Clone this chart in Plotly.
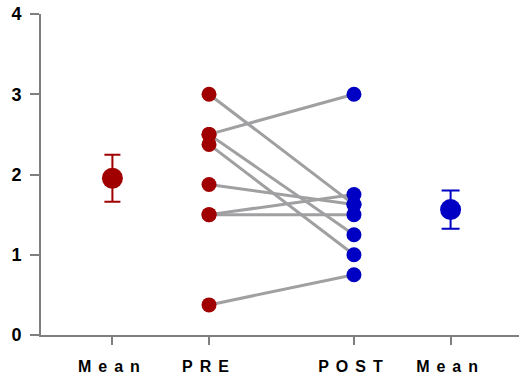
import numpy as np
import plotly.graph_objects as go

categories = ["Mean", "PRE", "POST", "Mean"]
cat_pos = [1, 2, 3.5, 4.5]

pre_values = [3.0, 2.5, 2.5, 2.375, 1.875, 1.5, 1.5, 0.375]
post_values = [1.625, 3.0, 1.25, 1.0, 1.625, 1.75, 1.5, 0.75]

y_ticks = [0, 1, 2, 3, 4]

RED = "#A00000"
BLUE = "#0000C4"
GRAY = "#A0A0A2"
AXIS = "#7F7F7F"
FONT = "Liberation Sans, Arial, sans-serif"

pre_mean = float(np.mean(pre_values))
post_mean = float(np.mean(post_values))
pre_sem = float(np.std(pre_values, ddof=1) / np.sqrt(len(pre_values)))
post_sem = float(np.std(post_values, ddof=1) / np.sqrt(len(post_values)))

fig = go.Figure()

# connecting lines
lx, ly = [], []
for a, b in zip(pre_values, post_values):
    lx += [cat_pos[1], cat_pos[2], None]
    ly += [a, b, None]
fig.add_trace(go.Scatter(x=lx, y=ly, mode="lines",
                         line=dict(color=GRAY, width=3), hoverinfo="skip"))

fig.add_trace(go.Scatter(x=[cat_pos[1]] * len(pre_values), y=pre_values, mode="markers",
                         marker=dict(color=RED, size=15)))
fig.add_trace(go.Scatter(x=[cat_pos[2]] * len(post_values), y=post_values, mode="markers",
                         marker=dict(color=BLUE, size=15)))

fig.add_trace(go.Scatter(x=[cat_pos[0]], y=[pre_mean], mode="markers",
                         marker=dict(color=RED, size=21),
                         error_y=dict(type="data", array=[pre_sem], color=RED,
                                      thickness=2, width=8)))
fig.add_trace(go.Scatter(x=[cat_pos[3]], y=[post_mean], mode="markers",
                         marker=dict(color=BLUE, size=21),
                         error_y=dict(type="data", array=[post_sem], color=BLUE,
                                      thickness=2, width=9)))

fig.update_layout(
    width=519, height=381,
    margin=dict(l=41, r=0, t=14, b=46),
    plot_bgcolor="white", paper_bgcolor="white",
    showlegend=False,
    font=dict(family=FONT, color="black"),
)
fig.update_xaxes(
    range=[0.261, 5.208], automargin=False,
    tickvals=cat_pos, ticktext=categories,
    showgrid=False, zeroline=False,
    showline=True, linecolor=AXIS, linewidth=2,
    ticks="outside", ticklen=8, tickwidth=2, tickcolor=AXIS,
    ticklabelstandoff=8,
    tickfont=dict(size=16, family=FONT, weight=700),
)
fig.update_yaxes(
    range=[0, 4], automargin=False,
    tickvals=y_ticks,
    showgrid=False, zeroline=False,
    showline=True, linecolor=AXIS, linewidth=2,
    ticks="outside", ticklen=9, tickwidth=2, tickcolor=AXIS,
    ticklabelstandoff=5,
    tickfont=dict(size=18, family=FONT, weight=700),
)

post_js = """
document.body.style.margin='0';
document.querySelectorAll('.xtick text').forEach(function(t){t.style.letterSpacing='7px';});
"""
fig.write_html("out.html", post_script=post_js, config={"displayModeBar": False})
